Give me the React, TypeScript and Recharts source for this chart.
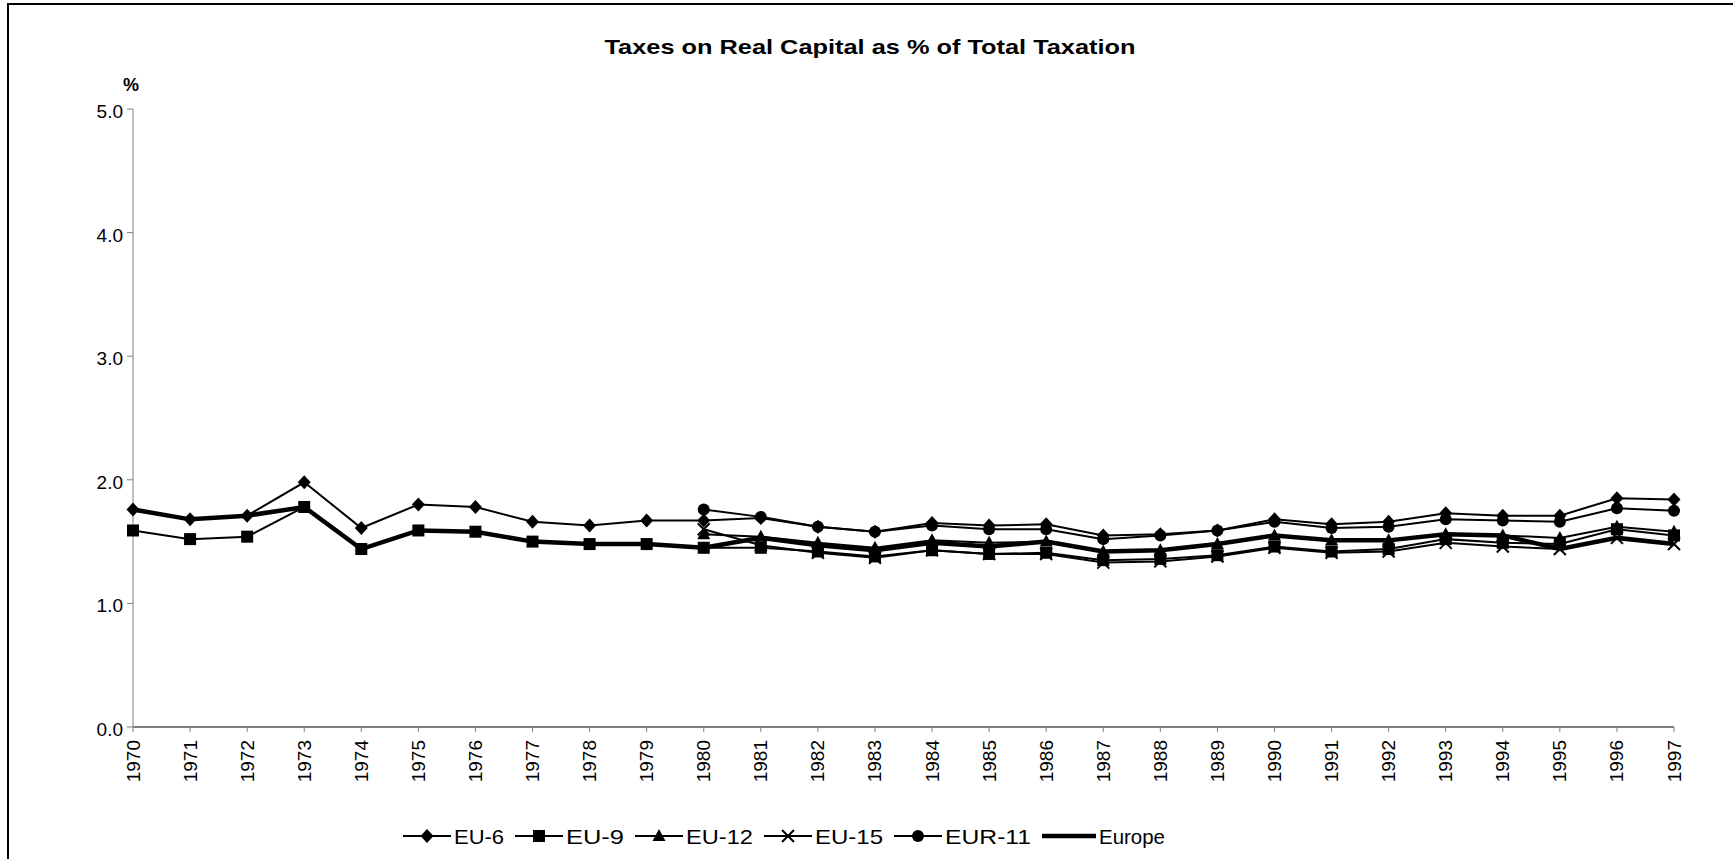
import { Line, LineChart, XAxis, YAxis } from "recharts";

const years = [
  1970, 1971, 1972, 1973, 1974, 1975, 1976, 1977, 1978, 1979, 1980, 1981, 1982, 1983,
  1984, 1985, 1986, 1987, 1988, 1989, 1990, 1991, 1992, 1993, 1994, 1995, 1996, 1997,
];

const eu6 = [
  1.76, 1.68, 1.71, 1.98, 1.61, 1.8, 1.78, 1.66, 1.63, 1.67, 1.67, 1.69, 1.62, 1.58,
  1.65, 1.63, 1.64, 1.55, 1.56, 1.59, 1.68, 1.64, 1.66, 1.73, 1.71, 1.71, 1.85, 1.84,
];
const eu9 = [
  1.59, 1.52, 1.54, 1.78, 1.44, 1.59, 1.58, 1.5, 1.48, 1.48, 1.45, 1.45, 1.42, 1.38,
  1.43, 1.4, 1.41, 1.35, 1.36, 1.39, 1.46, 1.42, 1.44, 1.52, 1.49, 1.48, 1.6, 1.55,
];
const eu12 = [
  null, null, null, null, null, null, null, null, null, null, 1.56, 1.54, 1.49, 1.45,
  1.51, 1.49, 1.5, 1.42, 1.43, 1.48, 1.55, 1.51, 1.51, 1.56, 1.55, 1.53, 1.62, 1.58,
];
const eu15 = [
  null, null, null, null, null, null, null, null, null, null, 1.6, 1.47, 1.41, 1.37,
  1.43, 1.4, 1.4, 1.33, 1.34, 1.38, 1.45, 1.41, 1.42, 1.49, 1.46, 1.44, 1.53, 1.48,
];
const eur11 = [
  null, null, null, null, null, null, null, null, null, null, 1.76, 1.7, 1.62, 1.58,
  1.63, 1.6, 1.6, 1.52, 1.55, 1.59, 1.66, 1.61, 1.62, 1.68, 1.67, 1.66, 1.77, 1.75,
];
const europe = [
  1.76, 1.68, 1.71, 1.78, 1.44, 1.59, 1.58, 1.5, 1.48, 1.48, 1.45, 1.53, 1.47, 1.43,
  1.49, 1.46, 1.5, 1.42, 1.43, 1.48, 1.55, 1.51, 1.51, 1.56, 1.55, 1.44, 1.53, 1.48,
];

const yTicks = [0, 1, 2, 3, 4, 5];

const data = years.map((year, i) => ({
  year,
  eu6: eu6[i],
  eu9: eu9[i],
  eu12: eu12[i],
  eu15: eu15[i],
  eur11: eur11[i],
  europe: europe[i],
}));

type Shape = "diamond" | "square" | "triangle" | "cross" | "circle" | "none";

const series: { key: string; name: string; shape: Shape; width: number }[] = [
  { key: "europe", name: "Europe", shape: "none", width: 4.5 },
  { key: "eu6", name: "EU-6", shape: "diamond", width: 2 },
  { key: "eu9", name: "EU-9", shape: "square", width: 2 },
  { key: "eu12", name: "EU-12", shape: "triangle", width: 2 },
  { key: "eu15", name: "EU-15", shape: "cross", width: 2 },
  { key: "eur11", name: "EUR-11", shape: "circle", width: 2 },
];

// legend order as in the original
const legendOrder = ["eu6", "eu9", "eu12", "eu15", "eur11", "europe"];
const legendTextWidth: Record<string, number> = {
  eu6: 50, eu9: 58, eu12: 67, eu15: 68, eur11: 86, europe: 66,
};

const FONT = "Arial, 'Liberation Sans', sans-serif";

function Marker({ cx, cy, shape }: { cx: number; cy: number; shape: Shape }) {
  if (shape === "diamond")
    return <polygon points={`${cx},${cy - 7} ${cx + 6.5},${cy} ${cx},${cy + 7} ${cx - 6.5},${cy}`} fill="#000" />;
  if (shape === "square") return <rect x={cx - 6} y={cy - 6} width={12} height={12} fill="#000" />;
  if (shape === "triangle")
    return <polygon points={`${cx},${cy - 7} ${cx + 6.5},${cy + 5} ${cx - 6.5},${cy + 5}`} fill="#000" />;
  if (shape === "cross")
    return (
      <g stroke="#000" strokeWidth={2}>
        <line x1={cx - 6} y1={cy - 6} x2={cx + 6} y2={cy + 6} />
        <line x1={cx - 6} y1={cy + 6} x2={cx + 6} y2={cy - 6} />
      </g>
    );
  if (shape === "circle") return <circle cx={cx} cy={cy} r={6} fill="#000" />;
  return null;
}

function makeDot(shape: Shape) {
  return (props: any) => {
    const { cx, cy, index, value } = props;
    if (cx == null || cy == null || value == null || shape === "none") return <g key={`d-${index}`} />;
    return (
      <g key={`d-${index}`}>
        <Marker cx={cx} cy={cy} shape={shape} />
      </g>
    );
  };
}

function YearTick(props: any) {
  const { x, y, payload } = props;
  return (
    <g transform={`translate(${x},${y})`}>
      <text
        x={-6}
        y={0}
        transform="rotate(-90)"
        textAnchor="end"
        dominantBaseline="central"
        fontSize={19}
        fontFamily={FONT}
        fill="#000"
      >
        {payload.value}
      </text>
    </g>
  );
}

function ValueTick(props: any) {
  const { x, y, payload } = props;
  return (
    <text x={x} y={y + 9} textAnchor="end" fontSize={19} fontFamily={FONT} fill="#000">
      {Number(payload.value).toFixed(1)}
    </text>
  );
}

function LegendSvg() {
  let pos = 403;
  const items = legendOrder.map((k) => {
    const s = series.find((d) => d.key === k)!;
    const iconW = k === "europe" ? 54 : 48;
    const start = pos;
    pos += iconW + 4 + legendTextWidth[k] + 10;
    return (
      <g key={k}>
        <line x1={start} y1={836} x2={start + iconW} y2={836} stroke="#000" strokeWidth={s.width} />
        <Marker cx={start + iconW / 2} cy={836} shape={s.shape} />
        <text
          x={start + iconW + 3}
          y={844}
          fontSize={21}
          fontFamily={FONT}
          textLength={legendTextWidth[k]}
          lengthAdjust="spacingAndGlyphs"
          fill="#000"
        >
          {s.name}
        </text>
      </g>
    );
  });
  return <>{items}</>;
}

export default function App() {
  return (
    <div style={{ position: "fixed", inset: 0, overflow: "hidden", background: "#fff" }}>
      <div
        style={{
          position: "absolute",
          left: 7,
          top: 3,
          width: 1800,
          height: 1000,
          border: "2px solid #000",
        }}
      />
      <div style={{ position: "absolute", left: 0, top: 0 }}>
        <LineChart
          width={1733}
          height={859}
          data={data}
          margin={{ top: 109, right: 59, left: 73, bottom: 62 }}
        >
          <XAxis
            type="number"
            dataKey="year"
            domain={[1970, 1997]}
            ticks={years}
            interval={0}
            height={70}
            tick={<YearTick />}
            tickSize={5}
            tickLine={{ stroke: "#808080" }}
            axisLine={{ stroke: "#000", strokeWidth: 1.2 }}
          />
          <YAxis
            type="number"
            domain={[0, 5]}
            ticks={yTicks}
            interval={0}
            width={60}
            tick={<ValueTick />}
            tickSize={6}
            tickMargin={4}
            tickLine={{ stroke: "#808080" }}
            axisLine={{ stroke: "#808080" }}
          />
          {series.map((s) => (
            <Line
              key={s.key}
              dataKey={s.key}
              name={s.name}
              type="linear"
              stroke="#000"
              strokeWidth={s.width}
              dot={makeDot(s.shape)}
              activeDot={false}
              isAnimationActive={false}
            />
          ))}
        </LineChart>
      </div>
      <svg
        width={1733}
        height={859}
        style={{ position: "absolute", left: 0, top: 0, pointerEvents: "none" }}
      >
        <text
          x={870}
          y={54}
          textAnchor="middle"
          fontSize={21}
          fontWeight="bold"
          fontFamily={FONT}
          textLength={531}
          lengthAdjust="spacingAndGlyphs"
          fill="#000"
        >
          Taxes on Real Capital as % of Total Taxation
        </text>
        <text x={131} y={91} textAnchor="middle" fontSize={18} fontWeight="bold" fontFamily={FONT} fill="#000">
          %
        </text>
        <LegendSvg />
      </svg>
    </div>
  );
}
